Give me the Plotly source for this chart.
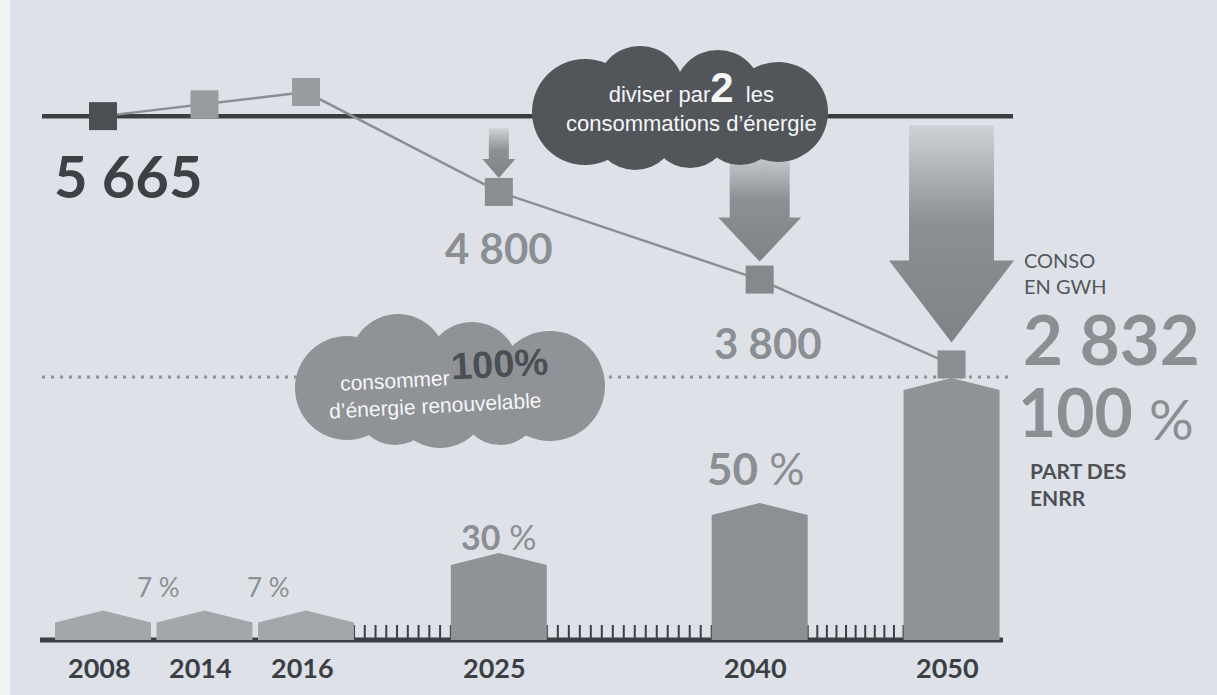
import plotly.graph_objects as go

# ---------------- data ----------------
years = ["2008", "2014", "2016", "2025", "2040", "2050"]
conso_gwh = [5665, 5800, 5940, 4800, 3800, 2832]          # consommation (GWh)
part_enrr = [7, 7, 7, 30, 50, 100]                        # part des ENRR (%)
conso_labels = ["5 665", "", "", "4 800", "3 800", "2 832"]
enrr_labels = ["", "7 %", "7 %", "30 %", "50 %", ""]

# ---------------- layout helpers (positions / styles) ----------------
W, H = 1217, 695
x_pos = [0, 1, 2, 3.9, 6.47, 8.36]      # horizontal slot of each year
PX0, PXU = 103.0, 101.5                 # pixel of slot 0, pixels per slot
X_RANGE = [(0 - PX0) / PXU, (W - PX0) / PXU]
Y_RANGE = [-22, 256]                    # percent axis
Y2_RANGE = [-940, 6990]                 # GWh axis


def sx(px):
    return (px - PX0) / PXU


def dx(px):
    return px / PXU


def dpct(p):
    return p / H * (Y_RANGE[1] - Y_RANGE[0])


def dy2(p):
    return p / H * (Y2_RANGE[1] - Y2_RANGE[0])


def fx(px):
    return px / W


def fy(py):
    return 1 - py / H


DARK = "#3b3f44"
GREY = "#8b8e92"
BG = "#dee2e8"
NUM_FONT = "Lato, 'Open Sans', sans-serif"
CLOUD_FONT = "'Liberation Sans', Arial, sans-serif"

fig = go.Figure()

# ---------------- ENRR bars (house-shaped) ----------------
bar_w = dx(96)
roof = dpct(12)
bar_colors = ["#a3a6aa", "#a3a6aa", "#a3a6aa", "#8f9296", "#8c8f93", "#8f9296"]
for x, v, c in zip(x_pos, part_enrr, bar_colors):
    xs = [x - bar_w / 2, x - bar_w / 2, x, x + bar_w / 2, x + bar_w / 2, x - bar_w / 2]
    ys = [0, v, v + roof, v, 0, 0]
    fig.add_trace(go.Scatter(x=xs, y=ys, mode="lines", fill="toself", fillcolor=c,
                             line=dict(width=0), hoverinfo="skip", showlegend=False))

# ---------------- arrows (from 2008 level down to each target) ----------------
# index: (shaft half width, head half width, head length, top gap, tip gap) in px
arrow_style = {3: (10, 16.5, 19, 12, 14), 4: (30, 41.5, 44, 34, 18), 5: (42.5, 62.5, 82, 9, 22)}
for i, (sw, hw, hl, tg, tpg) in arrow_style.items():
    xc = x_pos[i]
    top = conso_gwh[0] - dy2(tg)
    tip = conso_gwh[i] + dy2(tpg)
    neck = tip + dy2(hl)
    xs = [xc - dx(sw), xc + dx(sw), xc + dx(sw), xc + dx(hw), xc, xc - dx(hw), xc - dx(sw), xc - dx(sw)]
    ys = [top, top, neck, neck, tip, neck, neck, top]
    fig.add_trace(go.Scatter(
        x=xs, y=ys, yaxis="y2", mode="lines", fill="toself", line=dict(width=0),
        fillgradient=dict(type="vertical",
                          colorscale=[[0, "#7f8286"], [0.55, "#8c8f93"], [1, "#cfd2d7"]]),
        hoverinfo="skip", showlegend=False))

# ---------------- consumption line ----------------
marker_colors = ["#4b4f54", "#989b9f", "#989b9f", "#8a8d91", "#85888c", "#8a8d91"]
fig.add_trace(go.Scatter(
    x=x_pos, y=conso_gwh, yaxis="y2", mode="lines+markers",
    line=dict(color=GREY, width=2.5),
    marker=dict(symbol="square", size=28, color=marker_colors, line=dict(width=0)),
    hoverinfo="skip", showlegend=False))

# ---------------- shapes ----------------
shapes = []
# left scan border
shapes.append(dict(type="rect", xref="paper", yref="paper", x0=0, x1=fx(10), y0=0, y1=1,
                   fillcolor="#f2f3f5", line=dict(width=0), layer="below"))
# reference line at the 2008 level
shapes.append(dict(type="line", xref="x", yref="y2", x0=sx(42), x1=sx(1013),
                   y0=conso_gwh[0], y1=conso_gwh[0], line=dict(color=DARK, width=4.5), layer="below"))
# dotted 100 % line
shapes.append(dict(type="line", xref="paper", yref="paper", x0=fx(42), x1=fx(1013),
                   y0=fy(377), y1=fy(377), line=dict(color="#8e9196", width=3, dash="3px,6px"),
                   layer="below"))
# base line
shapes.append(dict(type="line", xref="x", yref="y", x0=sx(40), x1=sx(1003), y0=0, y1=0,
                   line=dict(color=DARK, width=5), layer="below"))
# year ticks between highlighted years
yrs = [int(y) for y in years]
for i in range(len(yrs) - 1):
    er = x_pos[i] + bar_w / 2
    el = x_pos[i + 1] - bar_w / 2
    n = yrs[i + 1] - yrs[i]
    if el - er < dx(20):
        continue
    for k in range(n + 1):
        xt = er + k * (el - er) / n
        shapes.append(dict(type="line", xref="x", yref="y", x0=xt, x1=xt, y0=0, y1=dpct(15),
                           line=dict(color=DARK, width=2), layer="below"))

# clouds
dark_cloud = [(585, 112, 53), (640, 90, 44), (718, 94, 44), (778, 112, 50),
              (690, 128, 40), (635, 128, 42), (740, 125, 40)]
light_cloud = [(347, 388, 52), (398, 362, 48), (472, 368, 46), (550, 386, 55),
               (440, 400, 48), (500, 405, 40), (395, 405, 40)]
for circles, col in ((dark_cloud, "#52565b"), (light_cloud, "#8f9297")):
    for cx, cy, r in circles:
        shapes.append(dict(type="circle", xref="paper", yref="paper",
                           x0=fx(cx - r), x1=fx(cx + r), y0=fy(cy + r), y1=fy(cy - r),
                           fillcolor=col, line=dict(width=0), layer="above"))

# ---------------- annotations ----------------
anns = []


def paper_text(text, cx, cy, size, color, family=NUM_FONT, weight=400, xanchor="center",
               angle=0, align="left"):
    anns.append(dict(text=text, xref="paper", yref="paper", x=fx(cx), y=fy(cy),
                     xanchor=xanchor, yanchor="middle", showarrow=False, textangle=angle,
                     align=align, font=dict(family=family, size=size, color=color, weight=weight)))


# year labels
for x, y in zip(x_pos, years):
    anns.append(dict(text=y, x=x, y=0, xref="x", yref="y", xanchor="center", yanchor="middle",
                     xshift=-4, yshift=-27, showarrow=False,
                     font=dict(family=NUM_FONT, size=27, color=DARK, weight=700)))

# consumption value labels: (xshift, yshift, size, color)
conso_style = {0: (25, -59, 58, "#3d4146"), 3: (0, -56, 42, GREY),
               4: (8, -63, 42, GREY), 5: (160, 26, 69, GREY)}
for i, (xs_, ys_, sz, col) in conso_style.items():
    anns.append(dict(text=conso_labels[i], x=x_pos[i], y=conso_gwh[i], xref="x", yref="y2",
                     xanchor="center", yanchor="middle", xshift=xs_, yshift=ys_, showarrow=False,
                     font=dict(family=NUM_FONT, size=sz, color=col, weight=700)))

# ENRR labels: (xshift, yshift, size, bold number?)
enrr_style = {1: (-46, 36, 26, False), 2: (-38, 36, 26, False), 3: (0, 29, 34, True), 4: (-4, 47, 44, True)}
for i, (xs_, ys_, sz, bold) in enrr_style.items():
    txt = enrr_labels[i]
    if bold:
        num, pct = txt.split(" ")
        txt = "<b>" + num + "</b> " + pct
    anns.append(dict(text=txt, x=x_pos[i], y=part_enrr[i], xref="x", yref="y",
                     xanchor="center", yanchor="middle", xshift=xs_, yshift=ys_, showarrow=False,
                     font=dict(family=NUM_FONT, size=sz, color=GREY, weight=400)))

# right-hand legend texts
paper_text("CONSO<br>EN GWH", 1022, 273, 20, "#53575c", xanchor="left")
paper_text(str(part_enrr[-1]), 1016, 411, 66, GREY, weight=700, xanchor="left")
paper_text("%", 1147, 418, 56, GREY, xanchor="left")
paper_text("PART DES<br>ENRR", 1028, 484, 21, "#4d5156", weight=700, xanchor="left")

# cloud texts
WHITE = "#f5f6f8"
paper_text("diviser par<span style='font-size:42px'><b>2</b></span>  les<br>"
           "consommations d\u2019énergie", 691, 100, 22, WHITE, family=CLOUD_FONT, align="center")
paper_text("consommer", 395, 381, 21, WHITE, family=CLOUD_FONT, angle=-3)
paper_text("100%", 499, 364, 38, "#4b4f54", family=CLOUD_FONT, weight=700, angle=-3)
paper_text("d\u2019énergie renouvelable", 435, 405, 21, WHITE, family=CLOUD_FONT, angle=-3)

fig.update_layout(
    width=W, height=H, margin=dict(l=0, r=0, t=0, b=0),
    paper_bgcolor=BG, plot_bgcolor=BG, showlegend=False, hovermode=False,
    xaxis=dict(range=X_RANGE, visible=False, fixedrange=True),
    yaxis=dict(range=Y_RANGE, visible=False, fixedrange=True),
    yaxis2=dict(range=Y2_RANGE, visible=False, overlaying="y", fixedrange=True),
    shapes=shapes, annotations=anns,
)

fig.write_html("out.html", config={"displayModeBar": False})
